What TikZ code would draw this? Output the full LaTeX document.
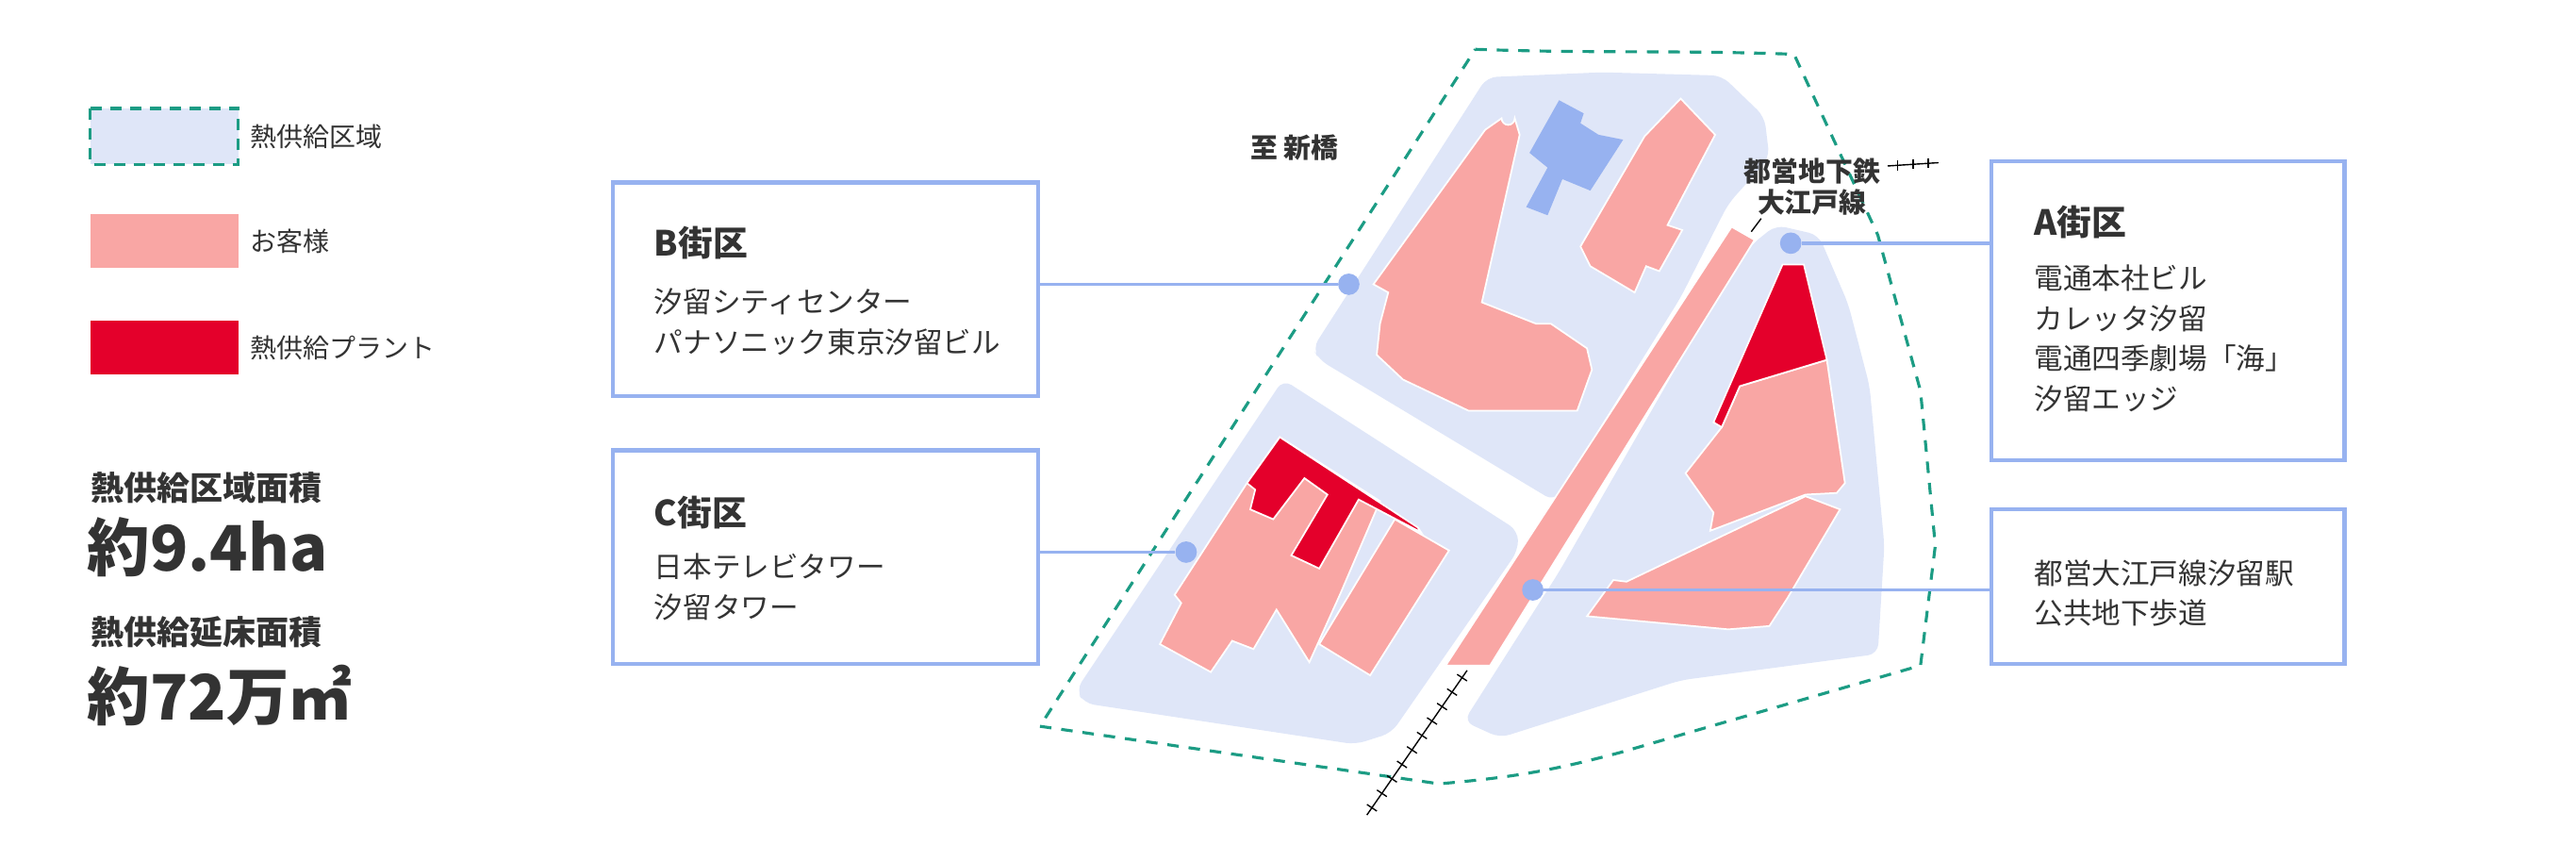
\documentclass[tikz,border=0pt]{standalone}
\usepackage{fontspec}
\setmainfont{Noto Sans CJK JP}
\usetikzlibrary{positioning,calc}
\definecolor{areablue}{HTML}{DFE6F8}
\definecolor{custpink}{HTML}{F9A6A4}
\definecolor{plantred}{HTML}{E4002B}
\definecolor{linkblue}{HTML}{97B2F0}
\definecolor{bordergreen}{HTML}{1C9C84}
\definecolor{ink}{HTML}{333333}
\tikzset{
  area/.style={fill=areablue,rounded corners=6pt},
  cust/.style={fill=custpink,draw=white,line width=1pt},
  plant/.style={fill=plantred,draw=white,line width=1pt},
  infobox/.style={draw=linkblue,line width=2.5pt,fill=white},
  link/.style={draw=linkblue,line width=2.2pt},
  dot/.style={circle,fill=linkblue,inner sep=0pt,minimum size=13pt},
  txt/.style={text=ink,font=\fontsize{16}{19}\selectfont,inner sep=0pt},
  maplbl/.style={text=ink,font=\fontsize{16.5}{19}\selectfont\bfseries,inner sep=0pt},
  ttl/.style={text=ink,font=\fontsize{21}{24}\selectfont\bfseries,inner sep=0pt,anchor=west},
  body/.style={text=ink,font=\fontsize{17.5}{24.5}\selectfont,inner sep=0pt,anchor=west,align=left},
  track/.style={draw=black,line width=0.8pt}
}
\begin{document}
\begin{tikzpicture}[x=0.035cm,y=-0.035cm]
  \useasboundingbox (0,0) rectangle (1568,514);
  % district areas
  \fill [area] (799,212) -- (905,47) -- (975,44) -- (1048,46) -- (1074,71) -- (1077,96) -- (1052,124) -- (1023,181) -- (946,305) -- (803,219) -- cycle;
  \fill [area] (781,231) -- (924,323) -- (924,335) -- (847,446) -- (825,453) -- (660,428) -- (655,420) -- cycle;
  \fill [area] (1081,137) -- (1107,143) -- (1125,185) -- (1138,235) -- (1147,332) -- (1143,398) -- (1023,414) -- (913,449) -- (891,439) -- (949,348) -- (1023,219) -- (1066,149) -- cycle;
  % border of the supply area
  \draw [bordergreen,line width=1.8pt,dash pattern=on 7pt off 6pt] (898,30) to[out=-2,in=178] (1092,33) -- (1143,143) -- (1169,238) -- (1178,332) -- (1169,405) -- (986,458) to[out=-165,in=5] (876,477) -- (633,442) -- cycle;
  % customers and plants
  \draw [cust] (1054,138) -- (1068,146) -- (907,405) -- (880,405) -- cycle;
  \draw [cust] (836,173) -- (904,79) -- (914,72) arc (180:0:4) -- (925,82) -- (902,184) -- (935,197) -- (944,197) -- (966,212) -- (969,225) -- (960,250) -- (894,250) -- (854,231) -- (838,216) -- (840,197) -- (845,178) -- cycle;
  \fill [linkblue] (949,61) -- (964,69) -- (962,75) -- (973,82) -- (988,85) -- (968,116) -- (951,109) -- (942,131) -- (929,126) -- (942,102) -- (931,93) -- cycle;
  \draw [cust] (1023,60) -- (1044,82) -- (1015,137) -- (1024,140) -- (1010,165) -- (1002,162) -- (995,178) -- (968,162) -- (962,150) -- (1001,83) -- cycle;
  \draw [cust] (1059,235) -- (1112,219) -- (1123,294) -- (1118,300) -- (1099,301) -- (1041,323) -- (1043,312) -- (1026,288) -- (1048,260) -- cycle;
  \draw [plant] (1085,161) -- (1098,161) -- (1112,219) -- (1059,235) -- (1048,260) -- (1043,257) -- cycle;
  \draw [cust] (1099,302) -- (1120,310) -- (1088,364) -- (1077,381) -- (1052,383) -- (966,375) -- (982,353) -- (990,354) -- cycle;
  \draw [cust] (759,294) -- (779,266) -- (840,305) -- (816,361) -- (797,403) -- (777,371) -- (763,395) -- (750,390) -- (737,409) -- (706,392) -- (719,367) -- (715,362) -- cycle;
  \draw [cust] (849,316) -- (882,335) -- (834,411) -- (803,392) -- cycle;
  \draw [plant] (759,294) -- (779,266) -- (863,321) -- (865,324) -- (827,304) -- (803,346) -- (786,338) -- (808,301) -- (794,291) -- (775,316) -- (761,310) -- (764,298) -- cycle;
  % railway
  \coordinate (r1) at (893,408);
  \coordinate (r2) at (832,496);
  \draw [track] (r1) -- (r2);
  \foreach \t in {0.05,0.15,...,1} {
    \draw [track] ($(r1)!\t!(r2)$) -- ++(3,2) ($(r1)!\t!(r2)$) -- ++(-3,-2);
  }
  \coordinate (r3) at (1149,101);
  \coordinate (r4) at (1180,99);
  \draw [track] (r3) -- (r4);
  \foreach \t in {0.2,0.5,0.8} {
    \draw [track] ($(r3)!\t!(r4)$) -- ++(0,3) ($(r3)!\t!(r4)$) -- ++(0,-3);
  }
  \draw [track] (1066,141) -- (1072,133);
  % labels on the map
  \node [maplbl] (shinbashi) at (788,90) {至 新橋};
  \node [maplbl] (oedo1) at (1103,104) {都営地下鉄};
  \node [maplbl,below=3pt of oedo1] (oedo2) {大江戸線};
  % legend
  \draw [fill=areablue,draw=bordergreen,line width=1.8pt,dash pattern=on 7pt off 5pt] (55,66) rectangle (145,100);
  \fill [custpink] (55,130) rectangle (145,163);
  \fill [plantred] (55,195) rectangle (145,228);
  \node [txt,anchor=west] (lgarea) at (152,83) {熱供給区域};
  \node [txt,anchor=west] (lgcust) at (152,147) {お客様};
  \node [txt,anchor=west] (lgplant) at (152,212) {熱供給プラント};
  \node [txt,anchor=west,font=\fontsize{20}{24}\selectfont\bfseries] (areattl) at (55,297) {熱供給区域面積};
  \node [txt,anchor=west,font=\fontsize{38}{42}\selectfont\bfseries] (areaval) at (53,333) {約9.4ha};
  \node [txt,anchor=west,font=\fontsize{20}{24}\selectfont\bfseries] (floorttl) at (55,385) {熱供給延床面積};
  \node [txt,anchor=west,font=\fontsize{38}{42}\selectfont\bfseries] (floorval) at (53,423) {約72万㎡};
  % connectors
  \node [dot] (bdot) at (821,173) {};
  \node [dot] (cdot) at (722,336) {};
  \node [dot] (adot) at (1090,148) {};
  \node [dot] (sdot) at (933,359) {};
  \coordinate (bend) at (632,173);
  \coordinate (cend) at (632,336);
  \coordinate (aend) at (1212,148);
  \coordinate (send) at (1212,359);
  \draw [link] (bdot) -- (bend);
  \draw [link] (cdot) -- (cend);
  \draw [link] (adot) -- (aend);
  \draw [link] (sdot) -- (send);
  % boxes
  \draw [infobox] (373,111) rectangle (632,241);
  \node [ttl] (btitle) at (398,148) {B街区};
  \node [body] (bbody) at (398,196) {汐留シティセンター\\パナソニック東京汐留ビル};
  \draw [infobox] (373,274) rectangle (632,404);
  \node [ttl] (ctitle) at (398,312) {C街区};
  \node [body] (cbody) at (398,357) {日本テレビタワー\\汐留タワー};
  \draw [infobox] (1212,98) rectangle (1427,280);
  \node [ttl] (atitle) at (1238,135) {A街区};
  \node [body] (abody) at (1238,206) {電通本社ビル\\カレッタ汐留\\電通四季劇場「海」\\汐留エッジ};
  \draw [infobox] (1212,310) rectangle (1427,404);
  \node [body] (sbody) at (1238,361) {都営大江戸線汐留駅\\公共地下歩道};
\end{tikzpicture}
\end{document}
